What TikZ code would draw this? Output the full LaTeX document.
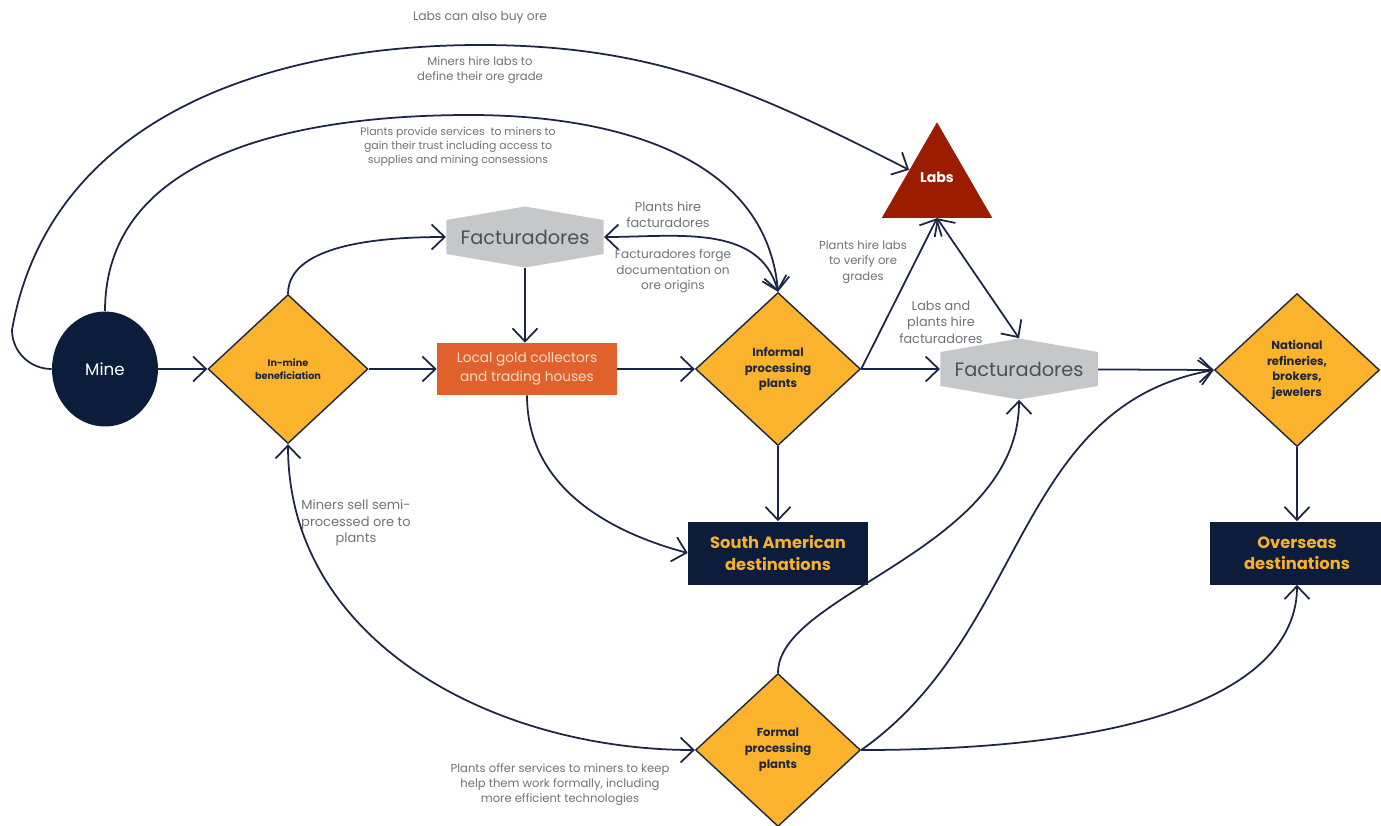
\documentclass[tikz,border=0pt]{standalone}
\usepackage{fontspec}
\setmainfont{Poppins}
\usepackage{tikz}
\usetikzlibrary{positioning}
\usetikzlibrary{shapes.geometric}
\usetikzlibrary{arrows.meta}
\definecolor{navy}{HTML}{0B1D3A}
\definecolor{linecol}{HTML}{1C2541}
\definecolor{gold}{HTML}{FBB32D}
\definecolor{rust}{HTML}{E0612B}
\definecolor{facgray}{HTML}{C5C7C9}
\definecolor{labred}{HTML}{9C1C00}
\definecolor{notegray}{HTML}{6E7279}
\definecolor{factext}{HTML}{4B5058}
\definecolor{rusttext}{HTML}{F7DCCB}
\definecolor{desttext}{HTML}{F7B02B}

\begin{document}
\begin{tikzpicture}[x=0.02cm,y=0.02cm,
        >={Straight Barb[length=2.6mm,width=5mm]},
        flow/.style={draw=linecol,line width=1pt,->},
        choice/.style={diamond,aspect=1.07,fill=gold,draw=linecol,line width=0.8pt,
            minimum width=3.3cm,minimum height=3.06cm,inner sep=0pt,align=center,
            text=linecol,font=\fontsize{6.6}{9}\selectfont\bfseries},
        hexa/.style={minimum width=3.15cm,minimum height=1.22cm,inner sep=0pt,
            text=factext,font=\fontsize{11}{13}\selectfont,
            path picture={\fill[facgray] (path picture bounding box.north)
                -- ++(1.575cm,-0.27cm) -- ++(0,-0.68cm) -- ++(-1.575cm,-0.27cm)
                -- ++(-1.575cm,0.27cm) -- ++(0,0.68cm) -- cycle;}},
        dest/.style={rectangle,fill=navy,minimum width=3.6cm,minimum height=1.26cm,
            align=center,text=desttext,font=\fontsize{9.3}{12}\selectfont\bfseries},
        note/.style={align=center,text=notegray,font=\fontsize{6.6}{8.7}\selectfont},
        notebig/.style={note,font=\fontsize{7.3}{9.3}\selectfont}]
    \useasboundingbox (0,0) rectangle (1381,-825);

    % Nodes along the main chain
    \node[ellipse,fill=navy,minimum width=2.12cm,minimum height=2.3cm,text=white,
        font=\fontsize{9.5}{11}\selectfont] (mine) at (105,-369) {Mine};
    \node[choice,minimum width=3.2cm,minimum height=2.98cm,
        font=\fontsize{5.5}{7.5}\selectfont\bfseries] (inmine) at (288,-369) {In-mine\\beneficiation};
    \node[rectangle,fill=rust,minimum width=3.6cm,minimum height=1.04cm,align=center,
        text=rusttext,font=\fontsize{7.8}{11}\selectfont] (local) at (527,-369) {Local gold collectors\\and trading houses};
    \node[hexa] (factop) at (525,-237) {Facturadores};
    \node[choice] (informal) at (778,-369) {Informal\\processing\\plants};
    \node[regular polygon,regular polygon sides=3,minimum size=2.55cm,inner sep=0pt,
        fill=labred,text=white,text depth=0.36cm,
        font=\fontsize{8}{10}\selectfont\bfseries] (labs) at (937,-186) {Labs};
    \node[hexa] (facright) at (1019,-369) {Facturadores};
    \node[choice,font=\fontsize{6.6}{8.8}\selectfont\bfseries] (national) at (1297,-370) {National\\refineries,\\brokers,\\jewelers};
    \node[dest] (southam) at (778,-553) {South American\\destinations};
    \node[dest,minimum width=3.5cm] (overseas) at (1297,-553) {Overseas\\destinations};
    \node[choice] (formal) at (778,-750) {Formal\\processing\\plants};

    % Straight links
    \draw[flow] (mine) -- (inmine);
    \draw[flow] (inmine) -- (local);
    \draw[flow] (local) -- (informal);
    \draw[flow] (informal) -- (facright);
    \draw[flow] (facright) -- (national.west);
    \draw[flow] (national) -- (overseas);
    \draw[flow] (informal) -- (southam);
    \draw[flow] (factop) -- (factop |- local.north);
    \draw[flow] (informal.east) -- (labs.side 2);
    \draw[flow,<->] (labs.side 2) -- (facright.north);

    % Curved links
    \draw[flow] (mine.west) to[out=180,in=270] (12,-330) to[out=80,in=180] (480,-45)
        to[out=0,in=153] (labs.side 1);
    \draw[flow] (mine.north) to[out=90,in=180] (470,-115) to[out=0,in=95] (informal.north);
    \draw[flow] (inmine.north) to[out=90,in=180,looseness=0.8] (factop.west);
    \draw[flow,<->] (factop.east) to[out=0,in=105] (informal.north);
    \draw[flow] (local.south) to[out=-90,in=165] (southam.west);
    \draw[flow,<->] (inmine.south) to[out=-90,in=180] (formal.west);
    \draw[flow] (formal.north) .. controls +(0,80) and +(0,-150) .. (facright.south);
    \draw[flow] (formal.east) to[out=35,in=190] (national.west);
    \draw[flow] (formal.east) .. controls +(320,0) and +(0,-90) .. (overseas.south);

    % Labels
    \node[note,font=\fontsize{7}{9}\selectfont] (buyore) at (480,-18) {Labs can also buy ore};
    \node[note] (hirelabs) at (480,-70) {Miners hire labs to\\define their ore grade};
    \node[note,font=\fontsize{6.2}{7.9}\selectfont] (services) at (458,-147) {Plants provide services\ \ to miners to\\gain their trust including access to\\supplies and mining consessions};
    \node[notebig] (hirefac) at (668,-215) {Plants hire\\facturadores};
    \node[notebig,font=\fontsize{6.9}{8.8}\selectfont] (forge) at (673,-271) {Facturadores forge\\documentation on\\ore origins};
    \node[note,font=\fontsize{6.6}{9}\selectfont] (verify) at (863,-262) {Plants hire labs\\to verify ore\\grades};
    \node[notebig] (labsplants) at (941,-322) {Labs and\\plants hire\\facturadores};
    \node[notebig,font=\fontsize{7.4}{9.5}\selectfont] (semi) at (356,-523) {Miners sell semi-\\processed ore to\\plants};
    \node[note,font=\fontsize{6.6}{8.5}\selectfont] (offer) at (560,-785) {Plants offer services to miners to keep\\help them work formally, including\\more efficient technologies};
\end{tikzpicture}
\end{document}
